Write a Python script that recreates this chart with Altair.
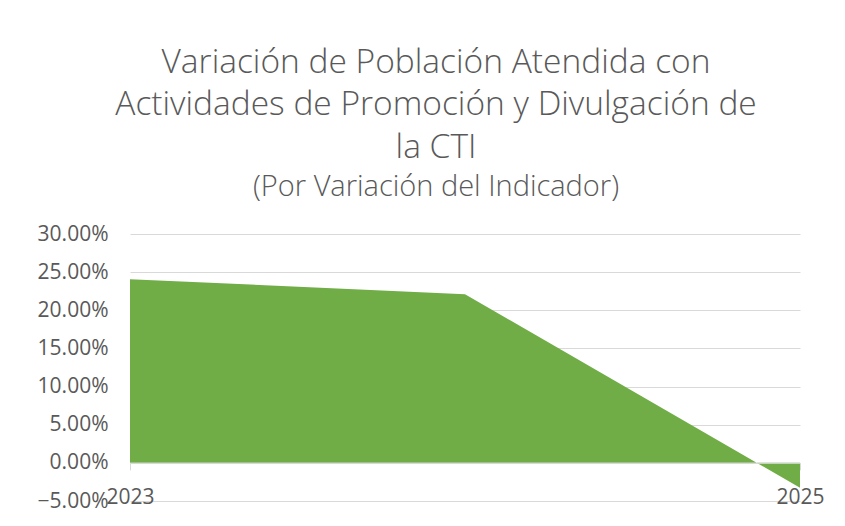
import altair as alt
import pandas as pd

years = [2023, 2024, 2025]
values = [0.2408, 0.2210, -0.0327]
y_ticks = [-0.05, 0.0, 0.05, 0.10, 0.15, 0.20, 0.25, 0.30]
title_lines = [
    "Variación de Población Atendida con",
    "Actividades de Promoción y Divulgación de",
    "la CTI",
]
subtitle = "(Por Variación del Indicador)"

df = pd.DataFrame({"year": years, "value": values})

W, H = 670, 267
FONT = "Open Sans"
GRAY = "#595959"
LIGHT = "#d9d9d9"

x_scale = alt.Scale(domain=[2023, 2025], nice=False, zero=False)
y_scale = alt.Scale(domain=[-0.05, 0.30], nice=False)

area = alt.Chart(df).mark_area(color="#70AD47", opacity=1).encode(
    x=alt.X(
        "year:Q",
        scale=x_scale,
        axis=alt.Axis(
            values=years, format="d", title=None, offset=-H * 0.05 / 0.35,
            grid=False, domainColor=LIGHT, tickColor=LIGHT, tickSize=7,
            labelPadding=17, labelFont=FONT, labelFontSize=21, labelColor=GRAY,
            zindex=1, labelFlush=False,
        ),
    ),
    y=alt.Y(
        "value:Q",
        scale=y_scale,
        axis=alt.Axis(
            values=y_ticks, format=".2%", title=None, domain=False, ticks=False,
            gridColor=LIGHT, labelPadding=22, labelFont=FONT, labelFontSize=21,
            labelColor=GRAY,
        ),
    ),
)

chart = area.properties(
    width=W,
    height=H,
    autosize=alt.AutoSizeParams(type="none"),
    padding={"left": 122, "top": 226, "right": 37, "bottom": 17},
    title=alt.TitleParams(
        text=title_lines,
        subtitle=subtitle,
        font=FONT, fontSize=33.5, fontWeight=300, color=GRAY, lineHeight=42.5,
        subtitleFont=FONT, subtitleFontSize=29, subtitleFontWeight=300,
        subtitleColor=GRAY, subtitlePadding=8,
        anchor="middle", dx=-29, offset=20,
    ),
).configure_view(stroke=None)

chart.save("out.html", embed_options={"renderer": "svg", "actions": False})
